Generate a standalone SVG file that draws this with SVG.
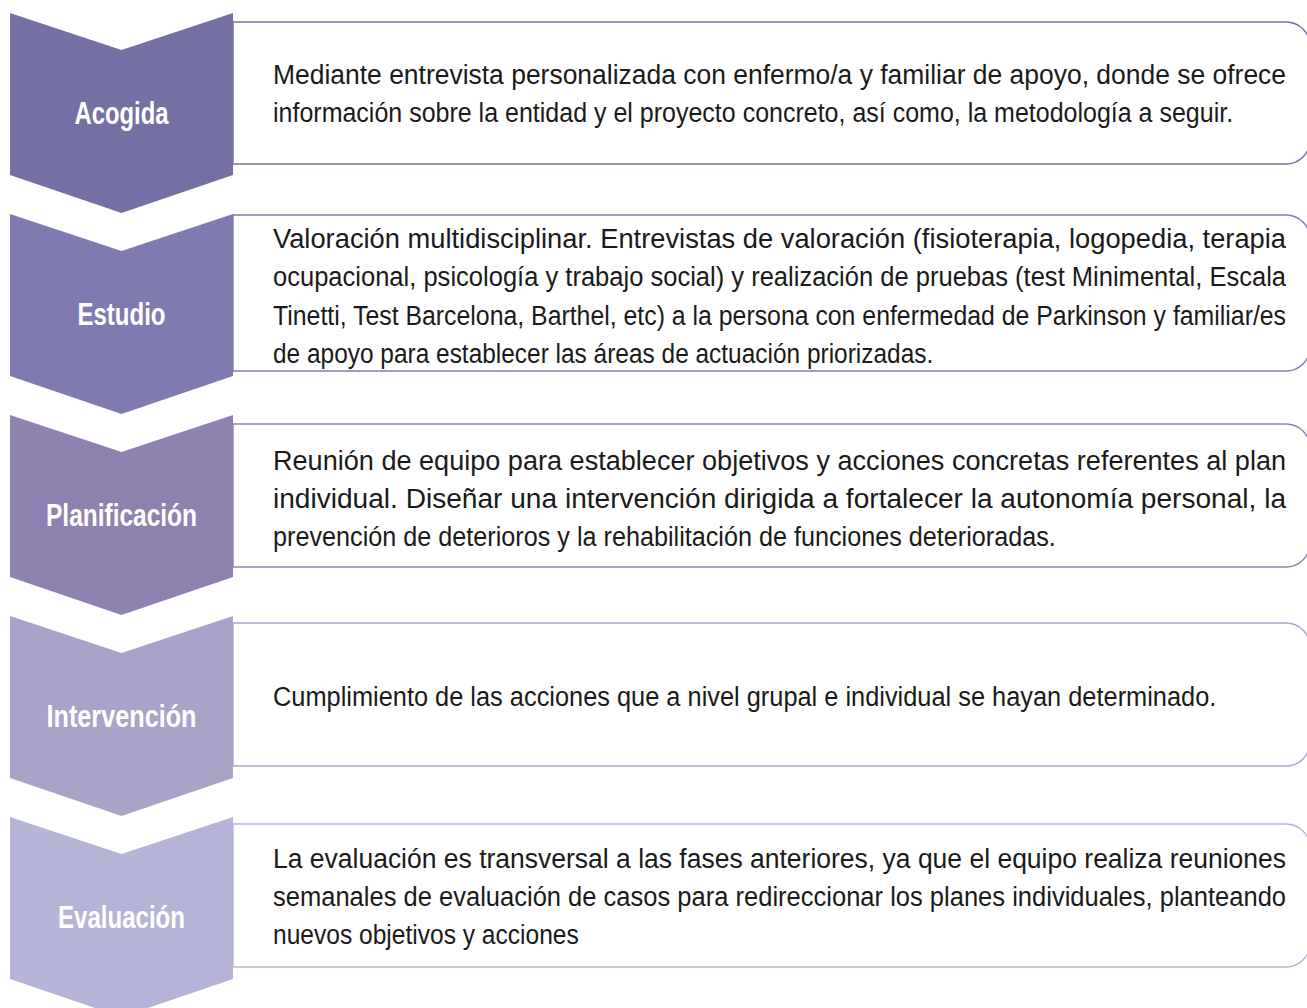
<svg xmlns="http://www.w3.org/2000/svg" width="1307" height="1008" viewBox="0 0 1307 1008">
<style>
  .box{fill:#ffffff;stroke-width:1.4}
  .lbl{font-family:"Liberation Sans",Arial,sans-serif;font-weight:bold;font-size:31px;fill:#ffffff;text-anchor:middle}
  .txt{font-family:"Liberation Sans",Arial,sans-serif;font-size:28px;fill:#1a1a1a}
</style>
<rect width="1307" height="1008" fill="#ffffff"/>
<g id="connectors"></g>
<g id="step1">
  <path class="box" stroke="#7570a3" d="M233,22 H1286 A24 24 0 0 1 1310,46 V140 A24 24 0 0 1 1286,164 H233 Z"/>
  <polygon fill="#7570a3" points="10,13 121.5,50 233,13 233,175 121.5,213 10,175"/>
  <text class="lbl" x="121.5" y="124" textLength="94" lengthAdjust="spacingAndGlyphs">Acogida</text>
  <g transform="translate(273 0) scale(0.84 1)">
    <text class="txt" x="0" y="84" textLength="1206" lengthAdjust="spacingAndGlyphs">Mediante entrevista personalizada con enfermo/a y familiar de apoyo, donde se ofrece</text>
    <text class="txt" x="0" y="122" textLength="1143" lengthAdjust="spacingAndGlyphs">información sobre la entidad y el proyecto concreto, así como, la metodología a seguir.</text>
  </g>
</g>
<g id="step2">
  <path class="box" stroke="#7f7bb1" d="M233,215 H1286 A24 24 0 0 1 1310,239 V347 A24 24 0 0 1 1286,371 H233 Z"/>
  <polygon fill="#7f7bb1" points="10,214 121.5,251 233,214 233,376 121.5,414 10,376"/>
  <text class="lbl" x="121.5" y="325" textLength="88" lengthAdjust="spacingAndGlyphs">Estudio</text>
  <g transform="translate(273 0) scale(0.84 1)">
    <text class="txt" x="0" y="248" textLength="1206" lengthAdjust="spacingAndGlyphs">Valoración multidisciplinar. Entrevistas de valoración (fisioterapia, logopedia, terapia</text>
    <text class="txt" x="0" y="286" textLength="1206" lengthAdjust="spacingAndGlyphs">ocupacional, psicología y trabajo social) y realización de pruebas (test Minimental, Escala</text>
    <text class="txt" x="0" y="325" textLength="1206" lengthAdjust="spacingAndGlyphs">Tinetti, Test Barcelona, Barthel, etc) a la persona con enfermedad de Parkinson y familiar/es</text>
    <text class="txt" x="0" y="363" textLength="786" lengthAdjust="spacingAndGlyphs">de apoyo para establecer las áreas de actuación priorizadas.</text>
  </g>
</g>
<g id="step3">
  <path class="box" stroke="#8f82b0" d="M233,424 H1286 A24 24 0 0 1 1310,448 V543 A24 24 0 0 1 1286,567 H233 Z"/>
  <polygon fill="#8f82b0" points="10,415 121.5,452 233,415 233,577 121.5,615 10,577"/>
  <text class="lbl" x="121.5" y="526" textLength="151" lengthAdjust="spacingAndGlyphs">Planificación</text>
  <g transform="translate(273 0) scale(0.84 1)">
    <text class="txt" x="0" y="470" textLength="1206" lengthAdjust="spacingAndGlyphs">Reunión de equipo para establecer objetivos y acciones concretas referentes al plan</text>
    <text class="txt" x="0" y="508" textLength="1206" lengthAdjust="spacingAndGlyphs">individual. Diseñar una intervención dirigida a fortalecer la autonomía personal, la</text>
    <text class="txt" x="0" y="546" textLength="932" lengthAdjust="spacingAndGlyphs">prevención de deterioros y la rehabilitación de funciones deterioradas.</text>
  </g>
</g>
<g id="step4">
  <path class="box" stroke="#a9a3c8" d="M233,623 H1286 A24 24 0 0 1 1310,647 V742 A24 24 0 0 1 1286,766 H233 Z"/>
  <polygon fill="#a9a3c8" points="10,616 121.5,653 233,616 233,778 121.5,816 10,778"/>
  <text class="lbl" x="121.5" y="727" textLength="150" lengthAdjust="spacingAndGlyphs">Intervención</text>
  <g transform="translate(273 0) scale(0.84 1)">
    <text class="txt" x="0" y="706" textLength="1123" lengthAdjust="spacingAndGlyphs">Cumplimiento de las acciones que a nivel grupal e individual se hayan determinado.</text>
  </g>
</g>
<g id="step5">
  <path class="box" stroke="#b6b4d6" d="M233,824 H1286 A24 24 0 0 1 1310,848 V943 A24 24 0 0 1 1286,967 H233 Z"/>
  <polygon fill="#b6b4d6" points="10,817 121.5,854 233,817 233,979 121.5,1017 10,979"/>
  <text class="lbl" x="121.5" y="928" textLength="127" lengthAdjust="spacingAndGlyphs">Evaluación</text>
  <g transform="translate(273 0) scale(0.84 1)">
    <text class="txt" x="0" y="868" textLength="1206" lengthAdjust="spacingAndGlyphs">La evaluación es transversal a las fases anteriores, ya que el equipo realiza reuniones</text>
    <text class="txt" x="0" y="906" textLength="1206" lengthAdjust="spacingAndGlyphs">semanales de evaluación de casos para redireccionar los planes individuales, planteando</text>
    <text class="txt" x="0" y="944" textLength="364" lengthAdjust="spacingAndGlyphs">nuevos objetivos y acciones</text>
  </g>
</g>
</svg>
